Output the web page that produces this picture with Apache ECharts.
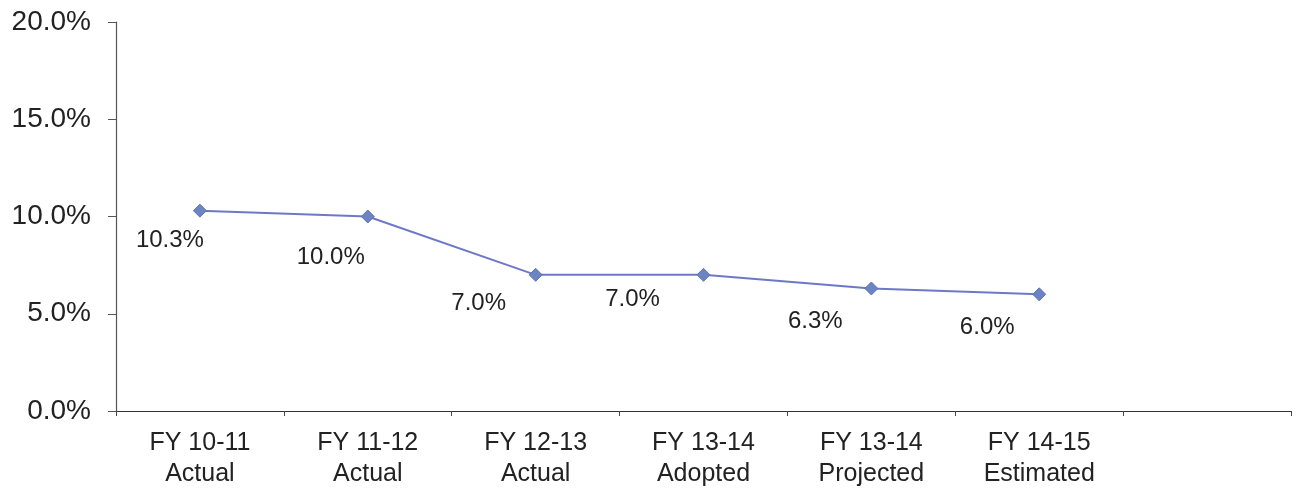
<!DOCTYPE html>
<html>
<head>
<meta charset="utf-8">
<script src="https://cdn.jsdelivr.net/npm/echarts@6/dist/echarts.min.js"></script>
<style>
html,body{margin:0;padding:0;background:#fff;}
#chart{width:1297px;height:502px;}
</style>
</head>
<body>
<div id="chart"></div>
<script>
const categories = ['FY 10-11\nActual', 'FY 11-12\nActual', 'FY 12-13\nActual', 'FY 13-14\nAdopted', 'FY 13-14\nProjected', 'FY 14-15\nEstimated', ''];
const rateValues = [10.3, 10.0, 7.0, 7.0, 6.3, 6.0];
const yTicks = [0, 5, 10, 15, 20];

// label placement (style only)
const labelShift = [[-30, 30], [-37, 41], [-57, 29], [-71, 25], [-56, 33], [-52, 33]];

const chart = echarts.init(document.getElementById('chart'), null, {renderer: 'canvas'});
const textColor = '#222';
chart.setOption({
  animation: false,
  backgroundColor: '#fff',
  grid: {left: 116, right: 6, top: 22, bottom: 91, containLabel: false},
  xAxis: {
    type: 'category',
    data: categories,
    boundaryGap: true,
    axisLine: {lineStyle: {color: '#333', width: 1.2}},
    axisTick: {show: true, interval: 0, length: 5, lineStyle: {color: '#444'}},
    axisLabel: {
      interval: 0, color: textColor, fontFamily: "'Liberation Sans', Arial, sans-serif",
      fontSize: 25, lineHeight: 31, margin: 17
    },
    splitLine: {show: false}
  },
  yAxis: {
    type: 'value',
    min: yTicks[0], max: yTicks[yTicks.length - 1], interval: 5,
    axisLine: {show: true, lineStyle: {color: '#555', width: 1.2}},
    axisTick: {show: true, length: 8, lineStyle: {color: '#555'}},
    axisLabel: {
      color: textColor, fontFamily: "'Liberation Sans Narrow', 'Arial Narrow', 'Liberation Sans', sans-serif",
      fontSize: 28, margin: 25,
      formatter: v => v.toFixed(1) + '%'
    },
    splitLine: {show: false}
  },
  series: [{
    type: 'line',
    data: rateValues.map((v, i) => ({
      value: v,
      label: {offset: labelShift[i]}
    })),
    symbol: 'diamond',
    symbolSize: 13,
    itemStyle: {color: '#6d84c2', borderColor: '#5f74b3', borderWidth: 1},
    lineStyle: {color: '#6e78c8', width: 2},
    label: {
      show: true, position: 'inside', color: textColor,
      fontFamily: "'Liberation Sans', Arial, sans-serif", fontSize: 24,
      formatter: p => p.value.toFixed(1) + '%'
    }
  }]
});
</script>
</body>
</html>
